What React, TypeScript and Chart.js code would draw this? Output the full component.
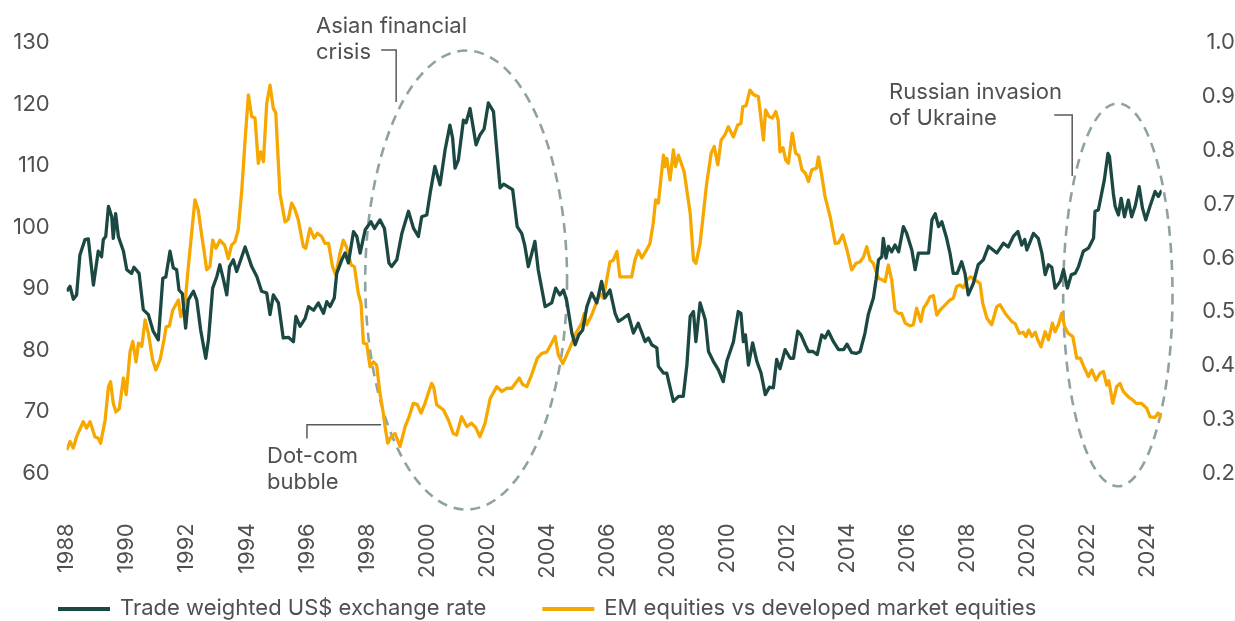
import React, { useEffect, useRef } from 'react';
import { Chart, registerables } from 'chart.js';

Chart.register(...registerables);

// ---------- DATA ----------
const usdDates = [
  1988.00, 1988.11, 1988.22, 1988.33, 1988.44, 1988.61, 1988.72, 1988.89, 1989.05, 1989.16,
  1989.22, 1989.30, 1989.39, 1989.50, 1989.55, 1989.63, 1989.72, 1989.89, 1990.00, 1990.16,
  1990.24, 1990.41, 1990.55, 1990.72, 1990.88, 1991.05, 1991.20, 1991.30, 1991.44, 1991.55,
  1991.66, 1991.74, 1991.85, 1991.96, 1992.05, 1992.22, 1992.33, 1992.46, 1992.63, 1992.72,
  1992.86, 1993.00, 1993.10, 1993.22, 1993.33, 1993.42, 1993.55, 1993.66, 1993.83, 1993.94,
  1994.16, 1994.33, 1994.49, 1994.66, 1994.77, 1994.88, 1995.05, 1995.21, 1995.38, 1995.55,
  1995.63, 1995.77, 1995.94, 1996.05, 1996.22, 1996.38, 1996.55, 1996.66, 1996.77, 1996.91,
  1996.99, 1997.16, 1997.27, 1997.38, 1997.55, 1997.66, 1997.77, 1997.94, 1998.13, 1998.25,
  1998.43, 1998.58, 1998.73, 1998.82, 1998.99, 1999.16, 1999.38, 1999.55, 1999.71, 1999.82,
  1999.99, 2000.10, 2000.26, 2000.43, 2000.60, 2000.76, 2000.85, 2000.93, 2001.04, 2001.21,
  2001.30, 2001.43, 2001.63, 2001.76, 2001.90, 2002.04, 2002.21, 2002.43, 2002.55, 2002.85,
  2003.00, 2003.15, 2003.25, 2003.37, 2003.59, 2003.70, 2003.93, 2004.15, 2004.28, 2004.42,
  2004.54, 2004.65, 2004.82, 2004.93, 2005.05, 2005.18, 2005.32, 2005.48, 2005.65, 2005.81,
  2005.92, 2006.09, 2006.26, 2006.37, 2006.53, 2006.70, 2006.87, 2007.03, 2007.26, 2007.37,
  2007.48, 2007.65, 2007.70, 2007.87, 2007.98, 2008.20, 2008.37, 2008.53, 2008.65, 2008.76,
  2008.87, 2008.95, 2009.09, 2009.26, 2009.37, 2009.53, 2009.70, 2009.86, 2009.98, 2010.20,
  2010.36, 2010.45, 2010.53, 2010.60, 2010.70, 2010.84, 2010.98, 2011.12, 2011.26, 2011.40,
  2011.53, 2011.64, 2011.75, 2011.92, 2012.09, 2012.20, 2012.34, 2012.45, 2012.59, 2012.70,
  2012.85, 2012.99, 2013.14, 2013.25, 2013.36, 2013.53, 2013.70, 2013.87, 2013.98, 2014.14,
  2014.30, 2014.42, 2014.58, 2014.69, 2014.86, 2014.95, 2015.03, 2015.14, 2015.19, 2015.28,
  2015.36, 2015.47, 2015.58, 2015.70, 2015.86, 2015.97, 2016.14, 2016.25, 2016.36, 2016.53,
  2016.70, 2016.81, 2016.92, 2017.03, 2017.14, 2017.30, 2017.41, 2017.52, 2017.65, 2017.80,
  2017.91, 2018.02, 2018.19, 2018.35, 2018.52, 2018.69, 2018.97, 2019.19, 2019.35, 2019.52,
  2019.67, 2019.80, 2019.90, 2019.97, 2020.19, 2020.35, 2020.47, 2020.58, 2020.69, 2020.80,
  2020.91, 2021.08, 2021.19, 2021.32, 2021.45, 2021.58, 2021.69, 2021.85, 2022.02, 2022.19,
  2022.24, 2022.35, 2022.44, 2022.55, 2022.67, 2022.72, 2022.85, 2022.91, 2023.02, 2023.11,
  2023.22, 2023.35, 2023.46, 2023.58, 2023.71, 2023.82, 2023.93, 2024.07, 2024.24, 2024.35,
  2024.46,
];
const usdValues = [
  89.6, 90.4, 88.3, 89.0, 95.5, 98.0, 98.1, 90.6, 96.1, 95.2,
  98.0, 98.5, 103.4, 101.7, 98.2, 102.2, 98.5, 96.1, 93.1, 92.5,
  93.5, 92.5, 86.6, 85.8, 83.1, 81.7, 91.7, 91.9, 96.1, 93.4,
  93.1, 89.8, 89.2, 83.6, 88.2, 89.6, 88.2, 83.3, 78.7, 81.7,
  90.1, 92.0, 93.9, 91.5, 89.0, 93.6, 94.7, 92.8, 95.2, 96.8,
  93.6, 92.0, 89.6, 89.3, 85.8, 89.0, 87.7, 82.0, 82.1, 81.4,
  85.5, 83.9, 85.2, 87.1, 86.5, 87.7, 86.0, 87.9, 87.1, 88.5,
  92.5, 94.7, 95.8, 94.2, 99.3, 98.5, 95.8, 99.6, 100.9, 99.8,
  101.2, 99.8, 94.2, 93.6, 94.7, 99.0, 102.6, 99.8, 98.5, 101.7,
  102.0, 105.5, 109.9, 106.9, 112.6, 116.6, 114.5, 109.6, 110.9, 117.4,
  117.0, 119.3, 113.4, 115.0, 116.0, 120.2, 118.8, 106.4, 107.0, 106.1,
  100.1, 99.0, 97.1, 93.6, 97.7, 93.1, 87.1, 87.7, 90.1, 89.0,
  89.8, 88.0, 82.8, 80.9, 82.5, 83.3, 87.1, 89.3, 87.7, 91.2,
  88.5, 89.8, 86.0, 84.7, 85.2, 85.8, 82.8, 84.4, 81.4, 82.0,
  80.9, 80.4, 77.4, 76.3, 76.3, 71.7, 72.5, 72.5, 77.6, 85.5,
  86.3, 81.4, 87.7, 85.0, 79.8, 78.2, 76.8, 74.9, 78.2, 81.4,
  86.3, 86.0, 81.4, 82.5, 77.6, 81.2, 78.2, 76.3, 72.8, 74.0,
  73.9, 78.5, 77.0, 80.1, 78.7, 78.7, 83.1, 82.5, 80.9, 79.8,
  79.8, 79.3, 82.5, 82.0, 83.1, 81.4, 80.1, 80.1, 81.0, 79.6,
  79.5, 79.8, 82.8, 85.8, 88.5, 91.5, 94.7, 95.2, 98.2, 95.0,
  96.9, 96.0, 97.1, 96.0, 100.1, 99.0, 96.3, 93.1, 95.8, 95.8,
  95.8, 101.2, 102.2, 100.1, 100.9, 98.2, 95.8, 92.5, 92.5, 94.4,
  92.5, 89.0, 90.9, 93.9, 94.7, 96.9, 95.8, 97.4, 96.8, 98.5,
  99.3, 97.1, 98.0, 96.3, 99.0, 98.2, 95.8, 92.3, 93.9, 93.5,
  90.1, 91.2, 93.1, 90.1, 92.3, 92.5, 93.6, 96.1, 96.6, 98.2,
  102.6, 102.8, 105.0, 107.7, 112.0, 111.5, 105.5, 103.4, 102.0, 104.7,
  101.7, 104.4, 101.7, 103.5, 106.6, 103.1, 101.2, 103.4, 105.8, 105.0,
  106.0,
];

const emDates = [
  1988.00, 1988.11, 1988.22, 1988.33, 1988.55, 1988.66, 1988.78, 1988.94, 1989.05, 1989.13,
  1989.28, 1989.39, 1989.46, 1989.55, 1989.64, 1989.75, 1989.89, 1989.98, 1990.11, 1990.20,
  1990.31, 1990.39, 1990.50, 1990.61, 1990.72, 1990.86, 1990.97, 1991.11, 1991.24, 1991.31,
  1991.42, 1991.53, 1991.66, 1991.72, 1991.80, 1991.94, 1992.05, 1992.16, 1992.27, 1992.38,
  1992.50, 1992.57, 1992.66, 1992.77, 1992.86, 1992.97, 1993.10, 1993.26, 1993.38, 1993.49,
  1993.60, 1993.71, 1993.83, 1993.94, 1994.05, 1994.16, 1994.27, 1994.38, 1994.46, 1994.55,
  1994.66, 1994.77, 1994.88, 1994.96, 1995.10, 1995.27, 1995.38, 1995.49, 1995.60, 1995.71,
  1995.88, 1995.96, 1996.10, 1996.24, 1996.35, 1996.49, 1996.60, 1996.72, 1996.85, 1996.96,
  1997.10, 1997.21, 1997.32, 1997.47, 1997.58, 1997.71, 1997.80, 1997.88, 1997.99, 1998.10,
  1998.21, 1998.32, 1998.43, 1998.54, 1998.60, 1998.69, 1998.80, 1998.93, 1999.10, 1999.27,
  1999.40, 1999.54, 1999.67, 1999.80, 1999.93, 2000.04, 2000.15, 2000.22, 2000.32, 2000.54,
  2000.71, 2000.87, 2000.98, 2001.15, 2001.32, 2001.48, 2001.62, 2001.76, 2001.93, 2002.10,
  2002.32, 2002.49, 2002.65, 2002.82, 2003.07, 2003.18, 2003.32, 2003.48, 2003.67, 2003.82,
  2003.98, 2004.15, 2004.26, 2004.37, 2004.52, 2004.65, 2004.82, 2004.98, 2005.15, 2005.23,
  2005.32, 2005.48, 2005.65, 2005.76, 2005.87, 2005.98, 2006.09, 2006.20, 2006.32, 2006.42,
  2006.60, 2006.81, 2006.92, 2007.03, 2007.15, 2007.31, 2007.42, 2007.53, 2007.61, 2007.70,
  2007.87, 2007.92, 2007.98, 2008.09, 2008.20, 2008.27, 2008.37, 2008.56, 2008.76, 2008.87,
  2008.95, 2009.09, 2009.20, 2009.31, 2009.46, 2009.56, 2009.68, 2009.79, 2009.92, 2010.03,
  2010.20, 2010.34, 2010.45, 2010.51, 2010.62, 2010.75, 2010.88, 2011.03, 2011.20, 2011.27,
  2011.38, 2011.50, 2011.61, 2011.69, 2011.75, 2011.85, 2011.94, 2012.03, 2012.16, 2012.27,
  2012.38, 2012.48, 2012.60, 2012.70, 2012.81, 2012.97, 2013.03, 2013.14, 2013.25, 2013.42,
  2013.59, 2013.70, 2013.84, 2013.98, 2014.14, 2014.28, 2014.42, 2014.53, 2014.64, 2014.75,
  2014.86, 2015.03, 2015.14, 2015.25, 2015.36, 2015.47, 2015.58, 2015.69, 2015.80, 2015.92,
  2016.08, 2016.19, 2016.30, 2016.44, 2016.53, 2016.64, 2016.75, 2016.86, 2016.97, 2017.08,
  2017.25, 2017.41, 2017.52, 2017.63, 2017.74, 2017.86, 2017.97, 2018.10, 2018.25, 2018.41,
  2018.50, 2018.64, 2018.80, 2018.97, 2019.08, 2019.25, 2019.47, 2019.58, 2019.72, 2019.85,
  2019.94, 2020.03, 2020.14, 2020.25, 2020.33, 2020.44, 2020.58, 2020.69, 2020.82, 2020.91,
  2021.02, 2021.13, 2021.23, 2021.35, 2021.50, 2021.63, 2021.75, 2021.89, 2022.02, 2022.13,
  2022.27, 2022.41, 2022.52, 2022.63, 2022.70, 2022.83, 2022.96, 2023.07, 2023.18, 2023.35,
  2023.50, 2023.61, 2023.78, 2023.96, 2024.07, 2024.24, 2024.34, 2024.46,
];
const emValues = [
  0.243, 0.259, 0.247, 0.268, 0.296, 0.284, 0.296, 0.268, 0.265, 0.256,
  0.299, 0.361, 0.370, 0.330, 0.314, 0.320, 0.377, 0.346, 0.426, 0.445,
  0.407, 0.442, 0.436, 0.485, 0.460, 0.411, 0.392, 0.411, 0.448, 0.472,
  0.474, 0.503, 0.516, 0.522, 0.491, 0.516, 0.584, 0.646, 0.708, 0.689,
  0.640, 0.615, 0.578, 0.584, 0.633, 0.618, 0.633, 0.624, 0.599, 0.624,
  0.630, 0.652, 0.726, 0.819, 0.903, 0.863, 0.860, 0.776, 0.797, 0.779,
  0.887, 0.921, 0.878, 0.870, 0.720, 0.667, 0.672, 0.702, 0.690, 0.671,
  0.621, 0.618, 0.655, 0.637, 0.646, 0.640, 0.627, 0.627, 0.584, 0.568,
  0.609, 0.633, 0.620, 0.587, 0.584, 0.534, 0.516, 0.442, 0.440, 0.398,
  0.407, 0.401, 0.349, 0.312, 0.287, 0.256, 0.268, 0.274, 0.250, 0.287,
  0.305, 0.330, 0.328, 0.312, 0.330, 0.349, 0.367, 0.360, 0.327, 0.318,
  0.299, 0.274, 0.271, 0.305, 0.287, 0.293, 0.285, 0.268, 0.293, 0.339,
  0.361, 0.352, 0.358, 0.358, 0.377, 0.365, 0.361, 0.383, 0.414, 0.423,
  0.425, 0.442, 0.454, 0.420, 0.404, 0.420, 0.442, 0.463, 0.479, 0.497,
  0.476, 0.494, 0.519, 0.534, 0.525, 0.559, 0.593, 0.596, 0.612, 0.565,
  0.565, 0.565, 0.596, 0.614, 0.600, 0.615, 0.627, 0.665, 0.708, 0.702,
  0.791, 0.770, 0.785, 0.745, 0.801, 0.770, 0.791, 0.760, 0.683, 0.596,
  0.590, 0.627, 0.683, 0.739, 0.795, 0.807, 0.773, 0.819, 0.829, 0.844,
  0.825, 0.847, 0.850, 0.881, 0.883, 0.912, 0.903, 0.900, 0.819, 0.875,
  0.863, 0.860, 0.872, 0.856, 0.797, 0.805, 0.782, 0.776, 0.832, 0.795,
  0.790, 0.764, 0.757, 0.742, 0.764, 0.767, 0.788, 0.754, 0.714, 0.677,
  0.627, 0.628, 0.643, 0.615, 0.578, 0.590, 0.593, 0.602, 0.621, 0.596,
  0.590, 0.562, 0.560, 0.556, 0.587, 0.559, 0.503, 0.497, 0.497, 0.479,
  0.474, 0.476, 0.507, 0.482, 0.507, 0.516, 0.528, 0.530, 0.494, 0.503,
  0.513, 0.522, 0.525, 0.547, 0.550, 0.545, 0.559, 0.565, 0.559, 0.553,
  0.516, 0.488, 0.476, 0.510, 0.513, 0.497, 0.482, 0.478, 0.460, 0.462,
  0.454, 0.466, 0.454, 0.462, 0.448, 0.435, 0.463, 0.448, 0.479, 0.463,
  0.476, 0.497, 0.472, 0.460, 0.454, 0.414, 0.414, 0.395, 0.380, 0.392,
  0.373, 0.386, 0.389, 0.364, 0.372, 0.330, 0.361, 0.367, 0.352, 0.342,
  0.336, 0.330, 0.330, 0.321, 0.305, 0.304, 0.312, 0.302,
];

const seriesLabels = ['Trade weighted US$ exchange rate', 'EM equities vs developed market equities'];

// axis ranges / ticks
const xRange = [1988, 2024.46];
const xTickStep = 2;
const leftRange = [60, 130];
const leftTickStep = 10;
const rightRange = [0.2, 1.0];
const rightTickStep = 0.1;

// annotations in data units (year, left-axis value)
const ellipses = [
  { cx: 2001.3, cy: 91.41, rx: 3.36, ry: 37.31 },
  { cx: 2023.0, cy: 89.02, rx: 1.82, ry: 31.13 },
];
const noteTexts = [
  ['Asian financial', 'crisis'],
  ['Dot-com', 'bubble'],
  ['Russian invasion', 'of Ukraine'],
];
const noteAnchors = [
  { x: 1996.3, y: 131.53 },
  { x: 1994.67, y: 61.74 },
  { x: 2015.38, y: 120.86 },
];
const noteLeaders = [
  [[1998.47, 128.8], [1998.97, 128.8], [1998.97, 120.37]],
  [[1996.0, 65.64], [1996.0, 67.91], [1998.47, 67.91]],
  [[2020.88, 118.26], [2021.48, 118.26], [2021.48, 108.35]],
];

// ---------- STYLE ----------
const GREEN = '#1b4842';
const ORANGE = '#f7a800';
const TEXT = '#505050';
const ELLIPSE = '#8fa2a1';
const FONT = 'Inter';
const FS = 22;

const overlayPlugin = {
  id: 'overlay',
  beforeDatasetsDraw(chart: any) {
    const { ctx } = chart;
    const xs = chart.scales.x;
    const ys = chart.scales.y;
    ctx.save();
    ctx.strokeStyle = ELLIPSE;
    ctx.lineWidth = 2.6;
    ctx.setLineDash([10, 7]);
    for (const e of ellipses) {
      const cx = xs.getPixelForValue(e.cx);
      const cy = ys.getPixelForValue(e.cy);
      const rx = Math.abs(xs.getPixelForValue(e.cx + e.rx) - cx);
      const ry = Math.abs(ys.getPixelForValue(e.cy + e.ry) - cy);
      ctx.beginPath();
      ctx.ellipse(cx, cy, rx, ry, 0, 0, Math.PI * 2);
      ctx.stroke();
    }
    ctx.restore();
  },
  afterDatasetsDraw(chart: any) {
    const { ctx } = chart;
    const xs = chart.scales.x;
    const ys = chart.scales.y;
    ctx.save();
    // leader lines
    ctx.strokeStyle = '#5a5a5a';
    ctx.lineWidth = 1.5;
    for (const pts of noteLeaders) {
      ctx.beginPath();
      pts.forEach((p: number[], i: number) => {
        const px = xs.getPixelForValue(p[0]);
        const py = ys.getPixelForValue(p[1]);
        if (i === 0) ctx.moveTo(px, py);
        else ctx.lineTo(px, py);
      });
      ctx.stroke();
    }
    // texts
    ctx.fillStyle = TEXT;
    ctx.font = `${FS}px ${FONT}`;
    ctx.textAlign = 'left';
    ctx.textBaseline = 'alphabetic';
    noteTexts.forEach((lines, i) => {
      const a = noteAnchors[i];
      const px = xs.getPixelForValue(a.x);
      const py = ys.getPixelForValue(a.y);
      lines.forEach((l, j) => ctx.fillText(l, px, py + j * 26));
    });
    // legend
    const colors = [GREEN, ORANGE];
    let lx = 58;
    const ly = chart.height - 12;
    ctx.lineWidth = 4;
    seriesLabels.forEach((lab, i) => {
      ctx.strokeStyle = colors[i];
      ctx.beginPath();
      ctx.moveTo(lx, ly);
      ctx.lineTo(lx + 52, ly);
      ctx.stroke();
      ctx.fillStyle = TEXT;
      ctx.textBaseline = 'middle';
      ctx.fillText(lab, lx + 62, ly - 1);
      lx += 62 + ctx.measureText(lab).width + 56;
    });
    ctx.restore();
  },
};

export default function App() {
  const ref = useRef<HTMLCanvasElement | null>(null);
  useEffect(() => {
    if (!ref.current) return;
    const chart = new Chart(ref.current, {
      type: 'line',
      data: {
        datasets: [
          {
            label: seriesLabels[0],
            data: usdDates.map((d, i) => ({ x: d, y: usdValues[i] })),
            borderColor: GREEN,
            backgroundColor: GREEN,
            borderWidth: 3.3,
            pointRadius: 0,
            tension: 0,
            yAxisID: 'y',
            borderJoinStyle: 'round',
          },
          {
            label: seriesLabels[1],
            data: emDates.map((d, i) => ({ x: d, y: emValues[i] })),
            borderColor: ORANGE,
            backgroundColor: ORANGE,
            borderWidth: 3.3,
            pointRadius: 0,
            tension: 0,
            yAxisID: 'y1',
            borderJoinStyle: 'round',
          },
        ],
      },
      options: {
        animation: false,
        responsive: false,
        maintainAspectRatio: false,
        layout: { padding: { top: 42.7, left: 0, right: 0, bottom: 0 } },
        plugins: { legend: { display: false }, tooltip: { enabled: false } },
        scales: {
          x: {
            type: 'linear',
            min: xRange[0],
            max: xRange[1],
            grid: { display: false, drawTicks: false },
            border: { display: false },
            afterFit: (s: any) => { s.height = 621 - 473.3; },
            ticks: {
              stepSize: xTickStep,
              includeBounds: false,
              autoSkip: false,
              minRotation: 90,
              maxRotation: 90,
              padding: 50,
              color: TEXT,
              font: { family: FONT, size: FS },
              callback: (v: any) => String(Math.round(Number(v))),
            },
          },
          y: {
            position: 'left',
            min: leftRange[0],
            max: leftRange[1],
            grid: { display: false, drawTicks: false },
            border: { display: false },
            afterFit: (s: any) => { s.width = 66.7; },
            ticks: {
              stepSize: leftTickStep,
              padding: 17,
              color: TEXT,
              font: { family: FONT, size: FS },
              callback: (v: any) => String(Math.round(Number(v))),
            },
          },
          y1: {
            position: 'right',
            min: rightRange[0],
            max: rightRange[1],
            grid: { display: false, drawTicks: false },
            border: { display: false },
            afterFit: (s: any) => { s.width = 1235 - 1161.7; },
            ticks: {
              stepSize: rightTickStep,
              padding: 25,
              crossAlign: 'far',
              color: TEXT,
              font: { family: FONT, size: FS },
              callback: (v: any) => Number(v).toFixed(1),
            },
          },
        },
      } as any,
      plugins: [overlayPlugin],
    });
    return () => chart.destroy();
  }, []);
  return (
    <div style={{ position: 'fixed', left: 0, top: 0, width: 1235, height: 621, background: '#fff' }}>
      <canvas ref={ref} width={1235} height={621} style={{ display: 'block' }} />
    </div>
  );
}
